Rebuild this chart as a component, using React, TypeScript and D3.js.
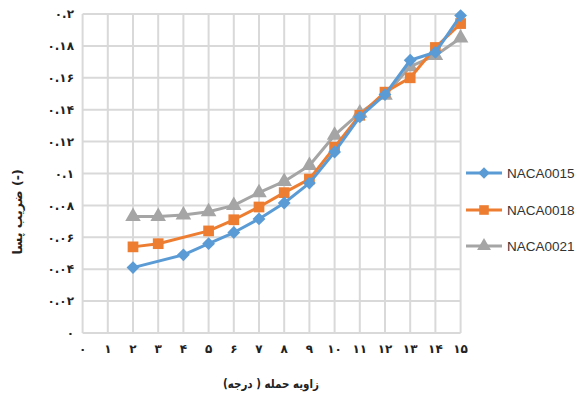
import React from "react";
import * as d3 from "d3";

const xTicks = [0, 1, 2, 3, 4, 5, 6, 7, 8, 9, 10, 11, 12, 13, 14, 15];
const xTickLabels = ["۰", "۱", "۲", "۳", "۴", "۵", "۶", "۷", "۸", "۹", "۱۰", "۱۱", "۱۲", "۱۳", "۱۴", "۱۵"];
const yTicks = [0, 0.02, 0.04, 0.06, 0.08, 0.1, 0.12, 0.14, 0.16, 0.18, 0.2];
const yTickLabels = ["۰", "۰.۰۲", "۰.۰۴", "۰.۰۶", "۰.۰۸", "۰.۱", "۰.۱۲", "۰.۱۴", "۰.۱۶", "۰.۱۸", "۰.۲"];

const naca0015X = [2, 4, 5, 6, 7, 8, 9, 10, 11, 12, 13, 14, 15];
const naca0015Y = [0.041, 0.049, 0.056, 0.063, 0.0715, 0.0815, 0.094, 0.1135, 0.1355, 0.1495, 0.171, 0.176, 0.199];
const naca0018X = [2, 3, 5, 6, 7, 8, 9, 10, 11, 12, 13, 14, 15];
const naca0018Y = [0.054, 0.056, 0.064, 0.071, 0.079, 0.088, 0.0965, 0.1165, 0.1365, 0.151, 0.16, 0.179, 0.194];
const naca0021X = [2, 3, 4, 5, 6, 7, 8, 9, 10, 11, 12, 13, 14, 15];
const naca0021Y = [0.073, 0.073, 0.074, 0.076, 0.080, 0.088, 0.095, 0.105, 0.124, 0.138, 0.149, 0.167, 0.174, 0.185];

const seriesNames = ["NACA0015", "NACA0018", "NACA0021"];
const seriesColors = ["#5B9BD5", "#ED7D31", "#A5A5A5"];
const markerTypes = [d3.symbolDiamond2, d3.symbolSquare, d3.symbolTriangle];
const markerSizes = [105, 115, 105];

const xAxisTitle = "زاویه حمله ( درجه)";
const yAxisTitle = "(-) ضریب پسا";

export default function App() {
  const W = 579, H = 401;
  const x = d3.scaleLinear().domain([0, 15]).range([82.6, 460.6]);
  const y = d3.scaleLinear().domain([0, 0.2]).range([333, 14]);

  const series = [
    naca0015X.map((v, i) => [v, naca0015Y[i]] as [number, number]),
    naca0018X.map((v, i) => [v, naca0018Y[i]] as [number, number]),
    naca0021X.map((v, i) => [v, naca0021Y[i]] as [number, number]),
  ];
  const line = d3.line<[number, number]>().x(d => x(d[0])).y(d => y(d[1]));
  const fontFa = "'DejaVu Sans', sans-serif";
  const drawOrder = [2, 1, 0];

  return (
    <svg width={W} height={H} style={{ position: "absolute", left: 0, top: 0, background: "#fff" }}>
      <rect width={W} height={H} fill="#fff" />
      {yTicks.map((t, i) => (
        <line key={"gy" + i} x1={x(0)} x2={x(15)} y1={y(t)} y2={y(t)} stroke="#D9D9D9" strokeWidth={2} />
      ))}
      {xTicks.map((t, i) => (
        <line key={"gx" + i} x1={x(t)} x2={x(t)} y1={y(0)} y2={y(0.2)} stroke="#D9D9D9" strokeWidth={2} />
      ))}
      {yTicks.map((t, i) => (
        <text key={"yl" + i} x={74} y={y(t)} dy="0.35em" textAnchor="end" fontFamily={fontFa} fontSize={12} fontWeight="bold" fill="#222">
          {yTickLabels[i]}
        </text>
      ))}
      {xTicks.map((t, i) => (
        <text key={"xl" + i} x={x(t)} y={353} textAnchor="middle" fontFamily={fontFa} fontSize={12} fontWeight="bold" fill="#222">
          {xTickLabels[i]}
        </text>
      ))}
      <text x={271} y={388} textAnchor="middle" fontFamily={fontFa} fontSize={12} fontWeight="bold" fill="#222" direction="rtl" textLength={96} lengthAdjust="spacingAndGlyphs">
        {xAxisTitle}
      </text>
      <text transform="translate(22,212) rotate(-90)" textAnchor="middle" fontFamily={fontFa} fontSize={12.5} fontWeight="bold" fill="#222" direction="rtl">
        {yAxisTitle}
      </text>
      {drawOrder.map(si => (
        <g key={"s" + si}>
          <path d={line(series[si]) || ""} fill="none" stroke={seriesColors[si]} strokeWidth={3} strokeLinejoin="round" />
          {series[si].map((d, j) => (
            <path key={j} transform={`translate(${x(d[0])},${y(d[1])})`} d={d3.symbol().type(markerTypes[si]).size(markerSizes[si])() || ""} fill={seriesColors[si]} />
          ))}
        </g>
      ))}
      {seriesNames.map((n, i) => {
        const ly = [173, 210, 246][i];
        return (
          <g key={"lg" + i}>
            <line x1={466} x2={502} y1={ly} y2={ly} stroke={seriesColors[i]} strokeWidth={3} />
            <path transform={`translate(484,${ly})`} d={d3.symbol().type(markerTypes[i]).size(markerSizes[i] * 0.8)() || ""} fill={seriesColors[i]} />
            <text x={507} y={ly} dy="0.35em" fontFamily="'Liberation Sans', Arial, sans-serif" fontSize={13.5} fill="#333">{n}</text>
          </g>
        );
      })}
    </svg>
  );
}
